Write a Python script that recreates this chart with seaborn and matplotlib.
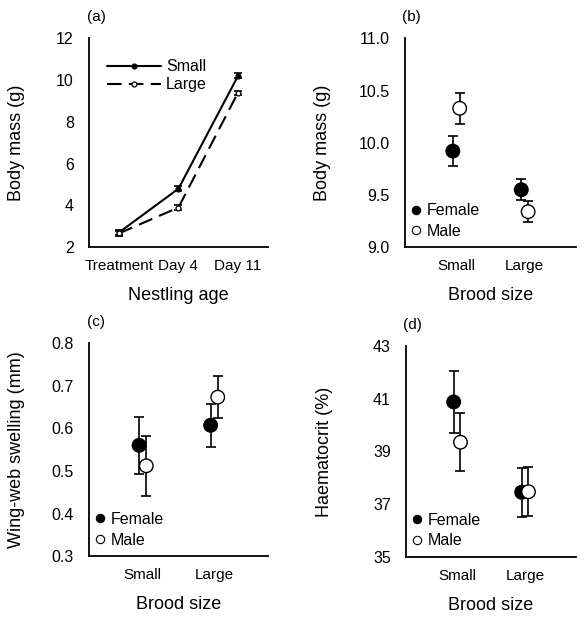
import numpy as np
import pandas as pd
import seaborn as sns
import matplotlib.pyplot as plt

sns.set_style("white")
plt.rcParams['font.family'] = ['Liberation Sans', 'DejaVu Sans']
plt.rcParams['text.color'] = 'black'
plt.rcParams['axes.labelcolor'] = 'black'
plt.rcParams['xtick.color'] = 'black'
plt.rcParams['ytick.color'] = 'black'

# panel (a): body mass over nestling age
ages = ['Treatment', 'Day 4', 'Day 11']
mass_small = [2.70, 4.80, 10.20]
mass_small_se = [0.12, 0.13, 0.12]
mass_large = [2.66, 3.90, 9.40]
mass_large_se = [0.10, 0.10, 0.09]

# panels (b)-(d): brood size x sex
brood = ['Small', 'Large']
sexes = ['Female', 'Male']
mass_f = [9.92, 9.55]
mass_f_se = [0.14, 0.10]
mass_m = [10.33, 9.34]
mass_m_se = [0.15, 0.10]
wing_f = [0.560, 0.607]
wing_f_se = [0.067, 0.050]
wing_m = [0.512, 0.673]
wing_m_se = [0.071, 0.049]
hct_f = [40.88, 37.45]
hct_f_se = [1.17, 0.93]
hct_m = [39.35, 37.47]
hct_m_se = [1.10, 0.93]

fig = plt.figure(figsize=(5.86, 6.18), dpi=100)
ax_a = fig.add_axes([0.152, 0.600, 0.305, 0.338])
ax_b = fig.add_axes([0.691, 0.600, 0.292, 0.338])
ax_c = fig.add_axes([0.152, 0.100, 0.305, 0.345])
ax_d = fig.add_axes([0.693, 0.099, 0.290, 0.341])

def style_axes(ax, letter, lab_x):
    sns.despine(ax=ax)
    for s in ['left', 'bottom']:
        ax.spines[s].set_color('black')
        ax.spines[s].set_linewidth(1.3)
    ax.tick_params(axis='y', direction='in', length=3, width=1.2, labelsize=11.5, pad=11)
    ax.tick_params(axis='x', length=0, labelsize=11, pad=8.5)
    ax.text(0.04, 1.10, letter, transform=ax.transAxes, fontsize=11,
            ha='center', va='center')
    ax.yaxis.set_label_coords(lab_x, 0.5)

# (a)
df_a = pd.DataFrame({'age': ages * 2,
                     'x': list(np.arange(3)) * 2,
                     'mass': mass_small + mass_large,
                     'se': mass_small_se + mass_large_se,
                     'brood': ['Small'] * 3 + ['Large'] * 3})
for name, ls, mfc in [('Small', '-', 'black'), ('Large', (0, (7, 3.5)), 'white')]:
    d = df_a[df_a.brood == name]
    ax_a.errorbar(d.x, d.mass, yerr=d.se, fmt='none', ecolor='black',
                  elinewidth=1.2, capsize=3, capthick=1.2, zorder=2)
    sns.lineplot(data=d, x='x', y='mass', ax=ax_a, color='black', lw=1.5,
                 linestyle=ls, marker='o', markersize=3.5, markerfacecolor=mfc,
                 markeredgecolor='black', markeredgewidth=0.9, label=name, zorder=3)
ax_a.set_xlim(-0.5, 2.5)
ax_a.set_ylim(2, 12)
ax_a.set_yticks([2, 4, 6, 8, 10, 12])
ax_a.set_xticks(np.arange(3))
ax_a.set_xticklabels(ages)
ax_a.set_xlabel('Nestling age', fontsize=13, labelpad=10)
ax_a.set_ylabel('Body mass (g)', fontsize=13)
ax_a.legend(loc='upper left', bbox_to_anchor=(0.1, 0.9), frameon=False,
            fontsize=11.5, handlelength=3.4, handletextpad=0.3, labelspacing=0.2,
            borderaxespad=0, borderpad=0)
style_axes(ax_a, '(a)', -0.36)

def sex_panel(ax, f, fse, m, mse, ylim, yticks, fmt, ylabel, letter, lab_x):
    df = pd.DataFrame({'brood': brood * 2,
                       'x': list(np.arange(2) - 0.05) + list(np.arange(2) + 0.05),
                       'val': f + m, 'se': fse + mse,
                       'sex': ['Female'] * 2 + ['Male'] * 2})
    ax.errorbar(df.x, df.val, yerr=df.se, fmt='none', ecolor='black',
                elinewidth=1.2, capsize=3.5, capthick=1.2, zorder=2)
    sns.scatterplot(data=df, x='x', y='val', hue='sex', palette={'Female': 'black', 'Male': 'white'},
                    edgecolor='black', linewidth=1.0, s=95, ax=ax, zorder=3, legend=False)
    for sx, col in [('Female', 'black'), ('Male', 'white')]:
        ax.plot([], [], 'o', color=col, markeredgecolor='black', markeredgewidth=0.8,
                markersize=6, label=sx)
    ax.legend(loc='lower left', bbox_to_anchor=(0.03, 0.04), frameon=False, fontsize=11.5,
              handlelength=0.7, handletextpad=0.35, labelspacing=0.35, borderaxespad=0,
              borderpad=0)
    ax.set_xlim(-0.75, 1.75)
    ax.set_ylim(*ylim)
    ax.set_yticks(yticks)
    ax.set_yticklabels([fmt.format(t) for t in yticks])
    ax.set_xticks(np.arange(2))
    ax.set_xticklabels(brood)
    ax.set_xlabel('Brood size', fontsize=13, labelpad=10)
    ax.set_ylabel(ylabel, fontsize=13)
    style_axes(ax, letter, lab_x)

sex_panel(ax_b, mass_f, mass_f_se, mass_m, mass_m_se, (9.0, 11.0),
          [9.0, 9.5, 10.0, 10.5, 11.0], '{:.1f}', 'Body mass (g)', '(b)', -0.43)
sex_panel(ax_c, wing_f, wing_f_se, wing_m, wing_m_se, (0.3, 0.8),
          [0.3, 0.4, 0.5, 0.6, 0.7, 0.8], '{:.1f}', 'Wing-web swelling (mm)', '(c)', -0.36)
sex_panel(ax_d, hct_f, hct_f_se, hct_m, hct_m_se, (35, 43),
          [35, 37, 39, 41, 43], '{:.0f}', 'Haematocrit (%)', '(d)', -0.43)

fig.savefig('out.png', dpi=100, facecolor='white')
